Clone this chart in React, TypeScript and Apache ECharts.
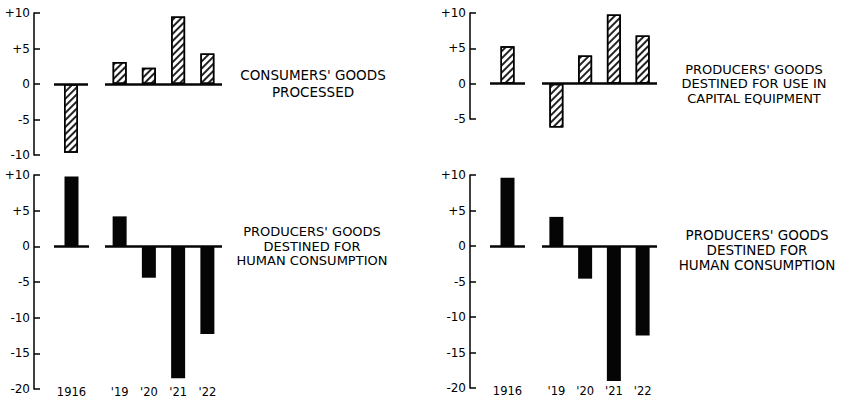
import React, { useEffect, useRef } from "react";
import * as echarts from "echarts";

// ---- data ----
const firstYear = ["1916"];
const laterYears = ["'19", "'20", "'21", "'22"];

const consumersProcessed1916 = [-9.7];
const consumersProcessed = [3.1, 2.3, 9.5, 4.3];

const capitalEquip1916 = [5.3];
const capitalEquip = [-6.2, 4.0, 9.8, 6.8];

const humanLeft1916 = [9.8];
const humanLeft = [4.2, -4.4, -18.5, -12.3];

const humanRight1916 = [9.6];
const humanRight = [4.1, -4.6, -19.0, -12.6];

const labelConsumers = ["CONSUMERS' GOODS", "PROCESSED"];
const labelCapital = ["PRODUCERS' GOODS", "DESTINED FOR USE IN", "CAPITAL EQUIPMENT"];
const labelHumanLeft = ["PRODUCERS' GOODS", "DESTINED FOR", "HUMAN CONSUMPTION"];
const labelHumanRight = ["PRODUCERS' GOODS", "DESTINED FOR", "HUMAN CONSUMPTION"];

const FONT = "DejaVu Sans";

type Panel = {
  top: number;
  height: number;
  min: number;
  max: number;
  bMin: number; // lower bound of the (hidden) scale used by the later-years group
  aLeft: number;
  aWidth: number;
  bLeft: number;
  bWidth: number;
  hatched: boolean;
  showYears: boolean;
  first: number[];
  later: number[];
};

const panels: Panel[] = [
  { top: 13, height: 142, min: -10, max: 10, bMin: -10, aLeft: 54, aWidth: 34, bLeft: 105, bWidth: 117, hatched: true, showYears: false, first: consumersProcessed1916, later: consumersProcessed },
  { top: 13, height: 106, min: -5, max: 10, bMin: -10, aLeft: 490, aWidth: 35, bLeft: 542, bWidth: 115, hatched: true, showYears: false, first: capitalEquip1916, later: capitalEquip },
  { top: 175, height: 214, min: -20, max: 10, bMin: -20, aLeft: 54, aWidth: 35, bLeft: 105, bWidth: 117, hatched: false, showYears: true, first: humanLeft1916, later: humanLeft },
  { top: 175, height: 213, min: -20, max: 10, bMin: -20, aLeft: 490, aWidth: 35, bLeft: 542, bWidth: 115, hatched: false, showYears: true, first: humanRight1916, later: humanRight },
];

function buildOption() {
  const grid: any[] = [];
  const xAxis: any[] = [];
  const yAxis: any[] = [];
  const series: any[] = [];

  panels.forEach((p) => {
    const pxPerUnit = p.height / (p.max - p.min);
    const groups = [
      { left: p.aLeft, width: p.aWidth, cats: firstYear, vals: p.first, showY: true, min: p.min, height: p.height },
      { left: p.bLeft, width: p.bWidth, cats: laterYears, vals: p.later, showY: false, min: p.bMin, height: pxPerUnit * (p.max - p.bMin) },
    ];
    groups.forEach((g) => {
      const idx = grid.length;
      grid.push({ left: g.left, width: g.width, top: p.top, height: g.height, containLabel: false });
      xAxis.push({
        type: "category",
        gridIndex: idx,
        data: g.cats,
        axisLine: { show: false, onZero: false },
        axisTick: { show: false },
        splitLine: { show: false },
        axisLabel: {
          show: p.showYears,
          color: "#000",
          fontFamily: FONT,
          fontSize: 11.5,
          margin: 3,
          verticalAlign: "middle",
          interval: 0,
        },
      });
      yAxis.push({
        type: "value",
        gridIndex: idx,
        min: g.min,
        max: p.max,
        interval: 5,
        show: g.showY,
        offset: 20,
        splitLine: { show: false },
        axisLine: { show: true, lineStyle: { color: "#000", width: 1.5 } },
        axisTick: { show: true, inside: true, length: 6, lineStyle: { color: "#000", width: 1.5 } },
        axisLabel: {
          color: "#000",
          fontFamily: FONT,
          fontSize: 12,
          margin: 4,
          formatter: (v: number) => (v > 0 ? "+" + v : String(v)),
        },
      });
      series.push({
        type: "bar",
        xAxisIndex: idx,
        yAxisIndex: idx,
        data: g.vals,
        barWidth: 14,
        itemStyle: p.hatched
          ? {
              color: "#fff",
              borderColor: "#000",
              borderWidth: 1.5,
              decal: {
                symbol: "rect",
                symbolSize: 1,
                color: "#222",
                backgroundColor: "#fff",
                dashArrayX: [1, 0],
                dashArrayY: [1.3, 2.2],
                rotation: -Math.PI / 4,
              },
            }
          : { color: "#050505", borderColor: "#050505", borderWidth: 0 },
        markLine: {
          silent: true,
          symbol: "none",
          label: { show: false },
          lineStyle: { color: "#050505", width: 2.5, type: "solid" },
          data: [{ yAxis: 0 }],
        },
      });
    });
  });

  // one text element per line, lines centred on x, first line centred at y0
  const textLines = (lines: string[], x: number, y0: number, step: number, size: number) =>
    lines.map((t, i) => ({
      type: "text",
      x,
      y: y0 + i * step,
      style: {
        text: t,
        fill: "#000",
        font: `${size}px "${FONT}"`,
        fontFamily: FONT,
        fontSize: size,
        textAlign: "center",
        textVerticalAlign: "middle",
        align: "center",
        verticalAlign: "middle",
      },
    }));

  return {
    animation: false,
    backgroundColor: "#fff",
    grid,
    xAxis,
    yAxis,
    series,
    graphic: [
      ...textLines(labelConsumers, 313, 75, 17, 13.5),
      ...textLines(labelCapital, 754, 69, 14.5, 13),
      ...textLines(labelHumanLeft, 312, 231.5, 14.5, 13),
      ...textLines(labelHumanRight, 757, 235, 15, 13.5),
    ],
  };
}

export default function App() {
  const ref = useRef<HTMLDivElement>(null);
  useEffect(() => {
    if (!ref.current) return;
    const chart = echarts.init(ref.current, undefined, { renderer: "svg" });
    chart.setOption(buildOption() as any);
    return () => chart.dispose();
  }, []);
  return (
    <div
      ref={ref}
      style={{ position: "absolute", left: 0, top: 0, width: 849, height: 400, background: "#fff" }}
    />
  );
}
